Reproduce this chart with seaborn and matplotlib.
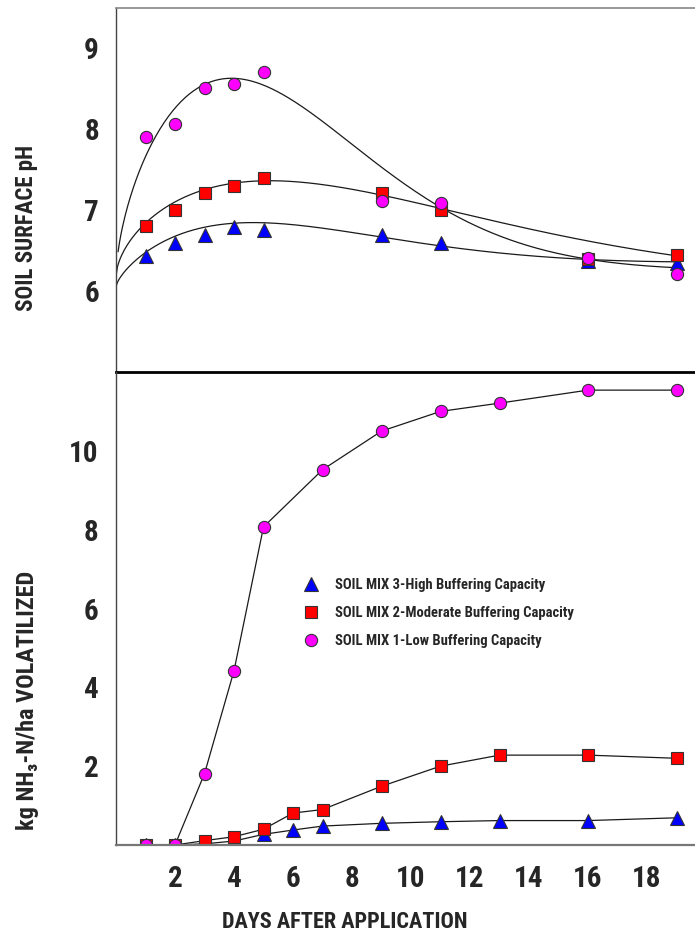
import numpy as np
import pandas as pd
import matplotlib
matplotlib.use("Agg")
import matplotlib.pyplot as plt
import seaborn as sns
from matplotlib import font_manager as fm
from matplotlib.lines import Line2D

# ---------------- data ----------------
series_names = ["SOIL MIX 3-High Buffering Capacity",
                "SOIL MIX 2-Moderate Buffering Capacity",
                "SOIL MIX 1-Low Buffering Capacity"]

# top panel: soil surface pH
days_ph = [1, 2, 3, 4, 5, 9, 11, 16, 19]
ph_high = [6.44, 6.60, 6.69, 6.79, 6.75, 6.69, 6.59, 6.37, 6.35]
ph_moderate = [6.81, 7.00, 7.21, 7.30, 7.40, 7.21, 7.00, 6.40, 6.45]
ph_low = [7.90, 8.06, 8.51, 8.56, 8.71, 7.11, 7.09, 6.41, 6.21]

# trend curves drawn through the pH panel
curve_days_high = [0, 1, 2, 3, 4, 5, 5.9, 7.25, 9, 11, 12.4, 14.1, 15.8, 19]
curve_ph_high = [6.05, 6.50, 6.66, 6.77, 6.84, 6.86, 6.84, 6.77, 6.66, 6.53, 6.49, 6.46, 6.42, 6.34]
curve_days_moderate = [0, 1, 2, 3, 4, 5, 5.9, 7.25, 9, 11, 12.4, 14.1, 16.4, 19]
curve_ph_moderate = [6.18, 6.87, 7.07, 7.23, 7.34, 7.37, 7.37, 7.31, 7.21, 7.02, 6.88, 6.75, 6.60, 6.44]
curve_days_low = [0.07, 0.5, 1, 2, 3, 4, 4.54, 5.9, 7.25, 8.27, 9.63, 11, 12.4, 14.1, 15.8, 19]
curve_ph_low = [6.42, 7.29, 7.66, 8.17, 8.52, 8.69, 8.67, 8.40, 8.00, 7.66, 7.31, 7.04, 6.84, 6.63, 6.42, 6.22]

# bottom panel: cumulative NH3-N volatilized
days_nh3 = [1, 2, 3, 4, 5, 6, 7, 9, 11, 13, 16, 19]
nh3_high = [0, 0, 0.03, 0.10, 0.27, 0.38, 0.48, 0.55, 0.59, 0.62, 0.62, 0.69]
nh3_moderate = [0, 0, 0.11, 0.21, 0.40, 0.81, 0.90, 1.49, 2.00, 2.28, 2.28, 2.20]
days_nh3_low = [1, 2, 3, 4, 5, 7, 9, 11, 13, 16, 19]
nh3_low = [0, 0, 1.81, 4.42, 8.07, 9.52, 10.50, 11.00, 11.21, 11.54, 11.54]

x_ticks = list(range(0, 20))
x_labels = ["", "", "2", "", "4", "", "6", "", "8", "", "10", "", "12", "", "14", "", "16", "", "18", ""]
ph_ticks = [5.0, 5.5, 6.0, 6.5, 7.0, 7.5, 8.0, 8.5, 9.0]
ph_labels = ["", "", "6", "", "7", "", "8", "", "9"]
nh3_ticks = [0, 2, 4, 6, 8, 10, 12]
nh3_labels = ["", "2", "4", "6", "8", "10", ""]

colors = ["#0000ff", "#ff0000", "#ff00ff"]
markers = ["^", "s", "o"]
msizes = [10.5, 9.0, 8.8]

# ---------------- fonts ----------------
sns.set_theme(style="white")
avail = {f.name for f in fm.fontManager.ttflist}
family = [f for f in ["Roboto Condensed", "Liberation Sans Narrow", "Open Sans Condensed"] if f in avail]
family += ["DejaVu Sans"]
plt.rcParams["font.family"] = family
plt.rcParams["font.weight"] = "bold"
plt.rcParams["font.stretch"] = "condensed"
narrow = family[0] != "DejaVu Sans"
tick_fs = 21 if narrow else 15
lab_fs = 16.5 if narrow else 12.5
labx_fs = 16 if narrow else 12.5
lab2_fs = 17.5 if narrow else 13
leg_fs = 10.5 if narrow else 8


def fit_curve(t, p):
    """Least-squares smooth trend c + a*t^b*exp(-k*t^d) + e*t through the read curve values."""
    t = np.asarray(t, float)
    p = np.asarray(p, float)
    ks = np.arange(0.005, 1.5, 0.005)
    best = (np.inf, None)
    for d in [0.7, 0.85, 1.0, 1.2, 1.4, 1.7, 2.0]:
        td = t ** d
        for b in np.arange(0.1, 2.51, 0.02):
            g = (t ** b)[None, :] * np.exp(-ks[:, None] * td[None, :])
            A = np.stack([np.ones_like(g), g, np.broadcast_to(t, g.shape)], axis=2)
            AtA = np.einsum("kni,knj->kij", A, A) + 1e-9 * np.eye(3)
            Atp = np.einsum("kni,n->ki", A, p)
            coef = np.linalg.solve(AtA, Atp[..., None])[..., 0]
            res = np.sum((np.einsum("kni,ki->kn", A, coef) - p) ** 2, axis=1)
            j = int(np.argmin(res))
            if res[j] < best[0]:
                best = (res[j], (b, ks[j], d, coef[j]))
    b, k, d, c = best[1]
    tt = np.linspace(t.min(), t.max(), 400)
    return tt, c[0] + c[1] * tt ** b * np.exp(-k * tt ** d) + c[2] * tt


W, H = 695, 936
fig = plt.figure(figsize=(W / 100, H / 100), dpi=100)
left = 116 / W
width = (W - 116) / W
ax1 = fig.add_axes([left, 1 - 372 / H, width, (372 - 8) / H])
ax2 = fig.add_axes([left, 1 - 845 / H, width, (845 - 372) / H])

xmax = (W - 116) / 29.5

# ----- top panel -----
curves = [(curve_days_high, curve_ph_high), (curve_days_moderate, curve_ph_moderate),
          (curve_days_low, curve_ph_low)]
for cd, cp in curves:
    tt, yy = fit_curve(cd, cp)
    sns.lineplot(x=tt, y=yy, ax=ax1, color="#1a1a1a", lw=0.9, zorder=2, sort=False)

for i, vals in enumerate([ph_high, ph_moderate, ph_low]):
    ax1.plot(days_ph, vals, ls="none", marker=markers[i], ms=msizes[i],
             mfc=colors[i], mec="#333333", mew=0.8, zorder=2.1 + 0.1 * i)

ax1.set_xlim(0, xmax)
ax1.set_ylim(5.0, 9.5)
ax1.set_yticks(ph_ticks)
ax1.set_yticklabels(ph_labels)
ax1.set_xticks([])
ax1.set_ylabel("")
ax1.spines["right"].set_visible(False)
ax1.spines["top"].set_color("#888888")
ax1.spines["top"].set_linewidth(1.2)
ax1.spines["left"].set_color("#444444")
ax1.spines["left"].set_linewidth(1.0)
ax1.spines["bottom"].set_color("black")
ax1.spines["bottom"].set_linewidth(2.0)
ax1.tick_params(axis="y", direction="inout", length=12.5, width=1.0, color="#444444",
                pad=6, labelsize=tick_fs)

# ----- bottom panel -----
nh3_sets = [(days_nh3, nh3_high), (days_nh3, nh3_moderate), (days_nh3_low, nh3_low)]
for i, (d, v) in enumerate(nh3_sets):
    sns.lineplot(x=d, y=v, ax=ax2, color="#1a1a1a", lw=0.9, zorder=2, sort=False)
for i, (d, v) in enumerate(nh3_sets):
    ax2.plot(d, v, ls="none", marker=markers[i], ms=msizes[i],
             mfc=colors[i], mec="#333333", mew=0.8, zorder=2.1 + 0.1 * i)

ax2.set_xlim(0, xmax)
ax2.set_ylim(0, 12)
ax2.set_xticks(x_ticks)
ax2.set_xticklabels(x_labels)
ax2.set_yticks(nh3_ticks)
ax2.set_yticklabels(nh3_labels)
ax2.set_xlabel("")
ax2.set_ylabel("")
ax2.spines["top"].set_visible(False)
ax2.spines["right"].set_visible(False)
ax2.spines["left"].set_color("#444444")
ax2.spines["left"].set_linewidth(1.0)
ax2.spines["bottom"].set_color("#777777")
ax2.spines["bottom"].set_linewidth(1.6)
ax2.tick_params(axis="both", direction="inout", length=13, width=1.0, color="#444444",
                labelsize=tick_fs)
ax2.tick_params(axis="y", pad=6)
ax2.tick_params(axis="x", pad=8)

for ax in (ax1, ax2):
    ax.set_axisbelow(False)
    ax.set_facecolor("white")
    ax.patch.set_alpha(0)

# axis titles
fig.text(27 / W, 1 - 228 / H, "SOIL SURFACE pH", rotation=90, ha="center", va="center",
         fontsize=lab_fs, fontweight="bold")
fig.text(28 / W, 1 - 700 / H, "kg NH\u2083-N/ha VOLATILIZED", rotation=90, ha="center",
         va="center", fontsize=lab2_fs, fontweight="bold")
fig.text(345 / W, 1 - 922 / H, "DAYS AFTER APPLICATION", ha="center", va="center",
         fontsize=labx_fs, fontweight="bold")

# legend
handles = [Line2D([], [], ls="none", marker=markers[i], ms=msizes[i], mfc=colors[i],
                  mec="#333333", mew=0.8) for i in range(3)]
ax2.legend(handles, series_names, loc="upper left", bbox_to_anchor=(296 / W, 1 - 571 / H),
           bbox_transform=fig.transFigure, frameon=False, handlelength=1.0,
           handletextpad=1.2, labelspacing=0.95, borderpad=0,
           prop={"size": leg_fs, "weight": "bold"})

fig.savefig("out.png", dpi=100, facecolor="white")
